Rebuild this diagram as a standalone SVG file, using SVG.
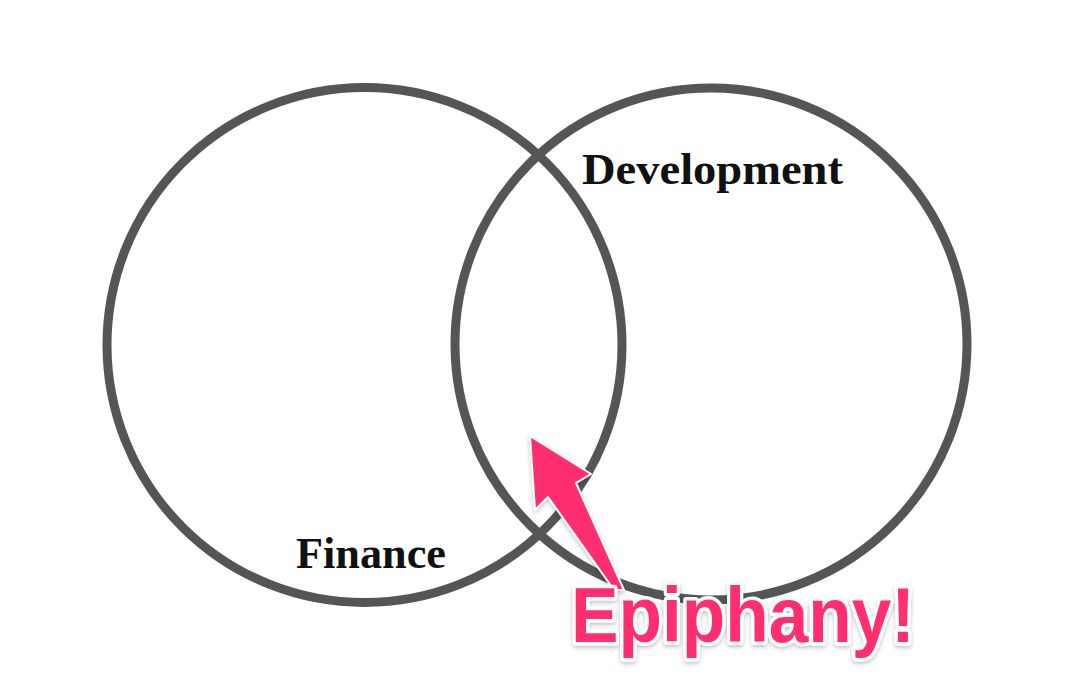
<svg xmlns="http://www.w3.org/2000/svg" width="1086" height="694" viewBox="0 0 1086 694">
<defs>
<style>
.ring{fill:none;stroke:#555555;stroke-width:9}
.lbl{font-family:"Liberation Serif","DejaVu Serif",serif;font-weight:bold;font-size:44px;fill:#111111}
.epi{font-family:"Liberation Sans",Arial,sans-serif;font-weight:bold;font-size:78px;fill:#FF2D6E;stroke:#ffffff;stroke-width:7;paint-order:stroke;stroke-linejoin:round}
</style>
<filter id="sh" x="-10%" y="-10%" width="120%" height="130%">
<feDropShadow dx="0" dy="2" stdDeviation="2" flood-color="#000000" flood-opacity="0.25"/>
</filter>
</defs>
<rect width="1086" height="694" fill="#ffffff"/>
<g id="finance">
<circle class="ring" cx="364.5" cy="345" r="257.5"/>
<text class="lbl" x="296" y="568" textLength="150" lengthAdjust="spacingAndGlyphs">Finance</text>
</g>
<g id="development">
<circle class="ring" cx="711" cy="344" r="256"/>
<text class="lbl" x="582" y="184" textLength="261" lengthAdjust="spacingAndGlyphs">Development</text>
</g>
<g id="connectors">
<polygon points="530,436 591,474 576,483 624,590 614,590 548,497 535,510" fill="#FF2D6E" stroke="#ffffff" stroke-width="2" stroke-linejoin="round" filter="url(#sh)"/>
</g>
<g id="epiphany">
<text class="epi" x="571" y="642" textLength="344" lengthAdjust="spacingAndGlyphs" filter="url(#sh)">Epiphany!</text>
</g>
</svg>
